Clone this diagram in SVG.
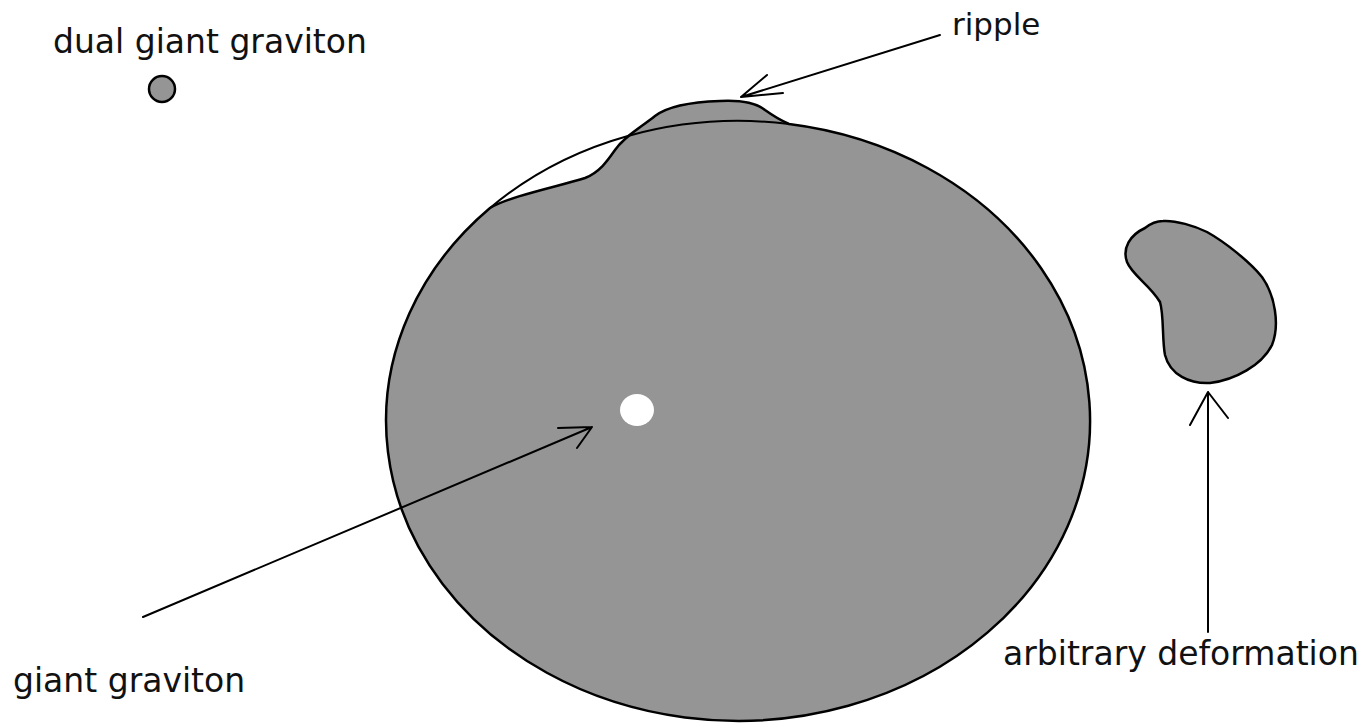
<svg xmlns="http://www.w3.org/2000/svg" width="1369" height="724" viewBox="0 0 1369 724">
<style>
.lbl{font-family:"DejaVu Sans","Liberation Sans",sans-serif;font-size:33px;fill:#111}
.shape{fill:#959595;stroke:#000;stroke-width:2.5;stroke-linejoin:round}
.ln{fill:none;stroke:#000;stroke-width:2;stroke-linecap:round;stroke-linejoin:round}
</style>
<rect width="1369" height="724" fill="#fff"/>
<g id="giant-graviton">
<path class="shape" d="M490,208 C510,196 560,186 585,178 C600,172 608,160 615,150 C625,136 640,128 655,116 C668,106 690,102 720,101 C740,100 755,102 765,110 C772,115 780,120 789,124 A352,300 0 1 1 490,208 Z"/>
<path class="ln" d="M490,208 A352,300 0 0 1 789,124"/>
<ellipse cx="637" cy="410" rx="17" ry="16" fill="#fff"/>
</g>
<g id="dual-giant-graviton">
<circle cx="162" cy="89" r="13" class="shape"/>
<text class="lbl" x="53" y="53">dual giant graviton</text>
</g>
<g id="deformation">
<path class="shape" d="M1163,221 C1175,220 1195,226 1207,232 C1225,242 1250,262 1262,277 C1275,295 1280,325 1272,345 C1262,365 1235,380 1210,383 C1190,384 1170,375 1165,355 C1162,340 1164,315 1160,302 C1150,285 1132,275 1127,262 C1122,248 1130,235 1145,228 C1150,224 1157,221 1163,221 Z"/>
<text class="lbl" x="1003" y="665">arbitrary deformation</text>
</g>
<g id="labels">
<text class="lbl" x="13" y="692">giant graviton</text>
<text class="lbl" x="952" y="35" style="font-size:31px">ripple</text>
</g>
<g id="connectors">
<path class="ln" d="M940,35 L741,97 M741,97 L767,75 M741,97 L783,93"/>
<path class="ln" d="M143,617 L592,427 M592,427 L558,428 M592,427 L577,448"/>
<path class="ln" d="M1208,632 L1208,392 M1208,392 L1190,425 M1208,392 L1228,418"/>
</g>
</svg>
